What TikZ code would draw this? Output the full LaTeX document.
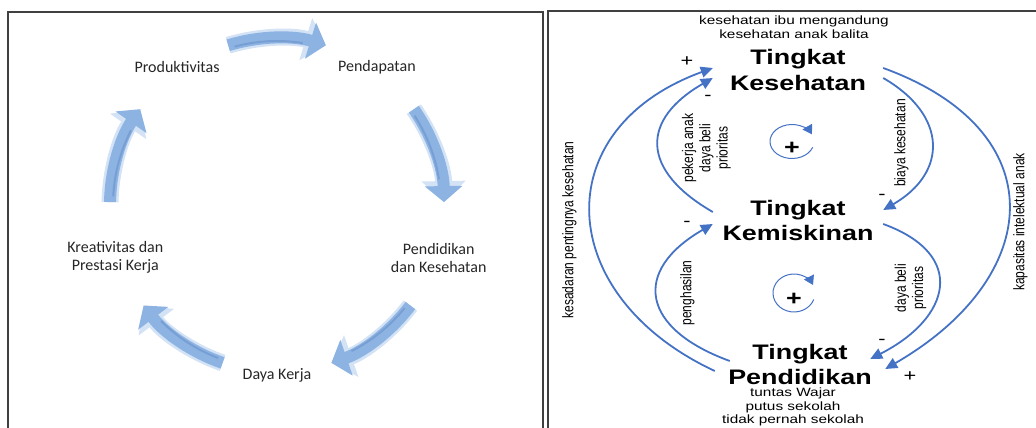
\documentclass[tikz,border=0pt]{standalone}
\usepackage{fontspec}
\usetikzlibrary{arrows.meta}
\newfontfamily\cyclefont{Carlito}
\newfontfamily\sidefont{Liberation Sans}
\newfontfamily\widefont[FakeStretch=1.28]{Liberation Sans}
\definecolor{cycleblue}{HTML}{8DB3E2}
\definecolor{cycleglow}{HTML}{D3E2F5}
\definecolor{cycleedge}{HTML}{6A93CC}
\definecolor{linkblue}{HTML}{4472C4}
\newcommand\tallbox[1]{\scalebox{1}[1.28]{\begin{tabular}{@{}c@{}}#1\end{tabular}}}

\begin{document}
\begin{tikzpicture}[
  x=1pt, y=1pt,
  frame/.style={black!75, line width=1.6pt},
  stage/.style={
    font=\cyclefont\fontsize{16}{18}\selectfont,
    text=black!85,
    align=center,
    inner sep=0pt
  },
  level/.style={
    font=\widefont\bfseries\fontsize{21}{25}\selectfont,
    align=center,
    text width=170pt,
    inner sep=0pt
  },
  note/.style={font=\widefont\fontsize{12}{13.5}\selectfont, align=center, inner sep=0pt},
  side/.style={font=\sidefont\fontsize{12}{13.5}\selectfont, rotate=90, inner sep=0pt},
  sign/.style={font=\widefont\fontsize{17}{17}\selectfont, inner sep=0pt},
  turnsign/.style={font=\widefont\bfseries\fontsize{21}{21}\selectfont, inner sep=0pt},
  link/.style={linkblue, line width=1.8pt, -{Triangle[length=12pt,width=11pt]}},
  turn/.style={linkblue, line width=1pt, -{Triangle[length=9pt,width=11pt]}}
]
  \useasboundingbox (0,0) rectangle (1036,428);

  % two panels
  \draw[frame] (8,-5) -- (8,416) -- (543,416) -- (543,-5);
  \draw[frame] (548,-5) -- (548,417) -- (1040,417);

  % left panel: cycle
  \coordinate (hub) at (277,223);
  \foreach \ang in {90,18,-54,-126,162} {
    \draw[cycleglow, line width=17pt, -{Triangle[width=43pt,length=21pt]}]
      ([shift={(\ang+17:167)}]hub) arc[start angle=\ang+17, end angle=\ang-17, radius=167];
    \draw[cycleblue, line width=12pt, -{Triangle[width=37pt,length=16pt]}]
      ([shift={(\ang+17:167)}]hub) arc[start angle=\ang+17, end angle=\ang-17, radius=167];
    \draw[cycleedge, line width=2pt, opacity=.6]
      ([shift={(\ang+15:164)}]hub) arc[start angle=\ang+15, end angle=\ang-9, radius=164];
  }
  \foreach \ang/\nm/\txt in {126/prod/Produktivitas, 54/pend/Pendapatan,
      -18/pdk/{Pendidikan\\dan Kesehatan}, -90/daya/Daya Kerja,
      -162/krea/{Kreativitas dan\\Prestasi Kerja}}
    \node[stage] (\nm) at ([shift={(\ang:170)}]hub) {\txt};

  % right panel: causal loops
  \node[note] (mom) at (794,401) {kesehatan ibu mengandung\\kesehatan anak balita};
  \node[level] (kes) at (798,358) {Tingkat\\Kesehatan};
  \node[level] (kem) at (798,208) {Tingkat\\Kemiskinan};
  \node[level] (pen) at (800,63.5) {Tingkat\\Pendidikan};
  \node[note] (school) at (793,21) {tuntas Wajar\\putus sekolah\\tidak pernah sekolah};

  \draw[link] ([yshift=-6.5pt]pen.west) to[out=155,in=200,looseness=1.5] ([yshift=2pt]kes.west);
  \draw[link] ([yshift=8pt]kem.west) to[out=150,in=210,looseness=1.6] ([yshift=-8pt]kes.west);
  \draw[link] ([yshift=-8pt]kes.east) to[out=-30,in=30,looseness=1.45] ([yshift=10pt]kem.east);
  \draw[link] ([yshift=2pt]kes.east) to[out=-20,in=30,looseness=1.56] ([yshift=-4.5pt]pen.east);
  \draw[link] ([xshift=15pt,yshift=3.5pt]pen.west) to[out=160,in=210,looseness=1.75] ([yshift=-4pt]kem.west);
  \draw[link] ([yshift=-4pt]kem.east) to[out=-20,in=27,looseness=1.7] ([xshift=-15pt,yshift=5.5pt]pen.east);

  \node[side] (aware) at (570,198) {\tallbox{kesadaran pentingnya kesehatan}};
  \node[side] (labour) at (707,280) {\tallbox{pekerja anak\\daya beli\\prioritas}};
  \node[side] (cost) at (902,285) {\tallbox{biaya kesehatan}};
  \node[side] (intel) at (1021,206) {\tallbox{kapasitas intelektual anak}};
  \node[side] (income) at (688,135) {\tallbox{penghasilan}};
  \node[side] (buy) at (911,140) {\tallbox{daya beli\\prioritas}};

  \node[sign] (s1) at (687,366) {+};
  \node[sign] (s2) at (708,330) {-};
  \node[sign] (s3) at (687,204) {-};
  \node[sign] (s4) at (882,231) {-};
  \node[sign] (s5) at (882,86) {-};
  \node[sign] (s6) at (910,51) {+};

  \node[turnsign] (upper) at (792,280) {+};
  \node[turnsign] (lower) at (794,129) {+};
  \draw[turn] ([yshift=6.5pt]upper.center) ++(-20:22 and 17)
    arc[start angle=-20, end angle=-335, x radius=22, y radius=17];
  \draw[turn] ([yshift=6pt]lower.center) ++(-20:21 and 19)
    arc[start angle=-20, end angle=-335, x radius=21, y radius=19];
\end{tikzpicture}
\end{document}
